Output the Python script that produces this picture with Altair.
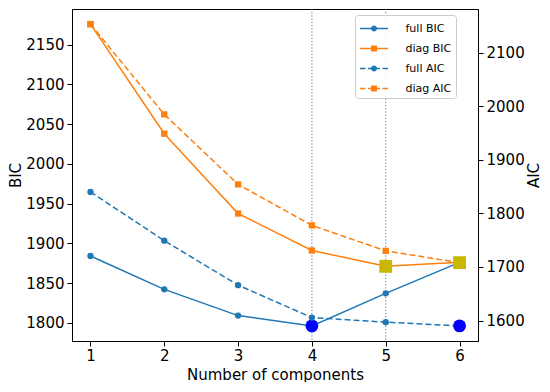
import altair as alt
import pandas as pd

# ---- data ----
components = [1, 2, 3, 4, 5, 6]
full_bic = [1884, 1842, 1809, 1796, 1837, 1876]
diag_bic = [2176, 2038, 1937.5, 1891, 1871, 1876]
full_aic = [1840, 1749, 1666, 1605.5, 1597, 1590]
diag_aic = [2153, 1984.5, 1854, 1777.5, 1730, 1708]
series_names = ["full BIC", "diag BIC", "full AIC", "diag AIC"]
vlines = [4, 5]
bic_ticks = [1800, 1850, 1900, 1950, 2000, 2050, 2100, 2150]
aic_ticks = [1600, 1700, 1800, 1900, 2000, 2100]

BLUE = "#1f77b4"
ORANGE = "#ff7f0e"
HL_BLUE = "#0000ff"
HL_YELLOW = "#c9b800"
FONT = "DejaVu Sans"

series_colors = [BLUE, ORANGE, BLUE, ORANGE]

# legend symbols: line + marker (custom paths, unit = sqrt(symbolSize)/2 px)
L, T = 1.474, 0.079
solid_line = f"M-{L},-{T}H-0.3V{T}H-{L}Z M0.3,-{T}H{L}V{T}H0.3Z "
dash_line = (f"M-{L},-{T}H-0.895V{T}H-{L}Z M-0.632,-{T}H-0.3V{T}H-0.632Z "
             f"M0.3,-{T}H0.632V{T}H0.3Z M0.895,-{T}H{L}V{T}H0.895Z ")
circ = "M0.316,0A0.316,0.316 0 1,1 -0.316,0A0.316,0.316 0 1,1 0.316,0Z"
sq = "M-0.316,-0.316H0.316V0.316H-0.316Z"
series_shapes = [solid_line + circ, solid_line + sq, dash_line + circ, dash_line + sq]

x_scale = alt.Scale(domain=[0.75, 6.25], nice=False, zero=False)
bic_scale = alt.Scale(domain=[1777, 2195], nice=False, zero=False)
aic_scale = alt.Scale(domain=[1561.85, 2181.15], nice=False, zero=False)


def frame(vals):
    return pd.DataFrame({"n": components, "v": vals})


X = alt.X("n:Q", scale=x_scale,
          axis=alt.Axis(values=components, format="d", title="Number of components"))
Y_BIC = alt.Y("v:Q", scale=bic_scale,
              axis=alt.Axis(values=bic_ticks, format="d", title="BIC", orient="left"))
Y_AIC = alt.Y("v:Q", scale=aic_scale,
              axis=alt.Axis(values=aic_ticks, format="d", title="AIC", orient="right",
                            titleAngle=270, titleBaseline="top"))


def series_layers(vals, Y, color, shape, dashed):
    d = frame(vals)
    lkw = dict(color=color, strokeWidth=1.5)
    if dashed:
        lkw["strokeDash"] = [6, 3]
    line = alt.Chart(d).mark_line(**lkw).encode(x=X, y=Y)
    pts = alt.Chart(d).mark_point(filled=True, shape=shape, size=40, color=color,
                                  opacity=1).encode(x=X, y=Y)
    return [line, pts]


def best(vals, Y, color, shape):
    i = vals.index(min(vals))
    d = pd.DataFrame({"n": [components[i]], "v": [vals[i]]})
    return alt.Chart(d).mark_point(filled=True, shape=shape, size=165, color=color,
                                   opacity=1).encode(x=X, y=Y)


rules = alt.Chart(pd.DataFrame({"n": vlines})).mark_rule(
    color="#3f74c4", strokeWidth=1, strokeDash=[1.2, 2]).encode(x=X)

leg = alt.Legend(title=None, orient="none", legendX=283, legendY=6,
                 symbolSize=361, symbolOffset=5.5, labelOffset=22,
                 labelFont=FONT, labelFontSize=11, labelColor="black",
                 rowPadding=5, padding=4, fillColor="rgba(255,255,255,0.85)",
                 strokeColor="#cccccc", cornerRadius=3, symbolStrokeWidth=0,
                 symbolOpacity=1)

legend_df = pd.DataFrame({"series": series_names,
                          "n": [components[0]] * 4, "v": [full_bic[0]] * 4})
legend_layer = alt.Chart(legend_df).mark_point(filled=True, opacity=0).encode(
    x=X, y=Y_BIC,
    color=alt.Color("series:N", scale=alt.Scale(domain=series_names, range=series_colors), legend=leg),
    shape=alt.Shape("series:N", scale=alt.Scale(domain=series_names, range=series_shapes), legend=leg),
)

left = alt.layer(
    rules,
    *series_layers(full_bic, Y_BIC, BLUE, "circle", False),
    *series_layers(diag_bic, Y_BIC, ORANGE, "square", False),
    best(full_bic, Y_BIC, HL_BLUE, "circle"),
    best(diag_bic, Y_BIC, HL_YELLOW, "square"),
    legend_layer,
)
right = alt.layer(
    *series_layers(full_aic, Y_AIC, BLUE, "circle", True),
    *series_layers(diag_aic, Y_AIC, ORANGE, "square", True),
    best(full_aic, Y_AIC, HL_BLUE, "circle"),
    best(diag_aic, Y_AIC, HL_YELLOW, "square"),
)

chart = alt.layer(left, right).resolve_scale(y="independent").properties(
    width=406, height=332, padding={"left": 0, "top": 0, "right": 0, "bottom": 0}
).configure(font=FONT).configure_view(
    stroke="black", strokeWidth=1
).configure_axis(
    grid=False, labelFont=FONT, titleFont=FONT, labelFontSize=15, titleFontSize=15,
    titleFontWeight="normal", labelColor="black", titleColor="black",
    domainColor="black", tickColor="black", tickSize=5, labelPadding=3,
    titlePadding=2, domainWidth=1, tickWidth=1
).configure_axisX(labelPadding=2, titlePadding=4)

chart.save("out.html", embed_options={"renderer": "svg", "actions": False})
